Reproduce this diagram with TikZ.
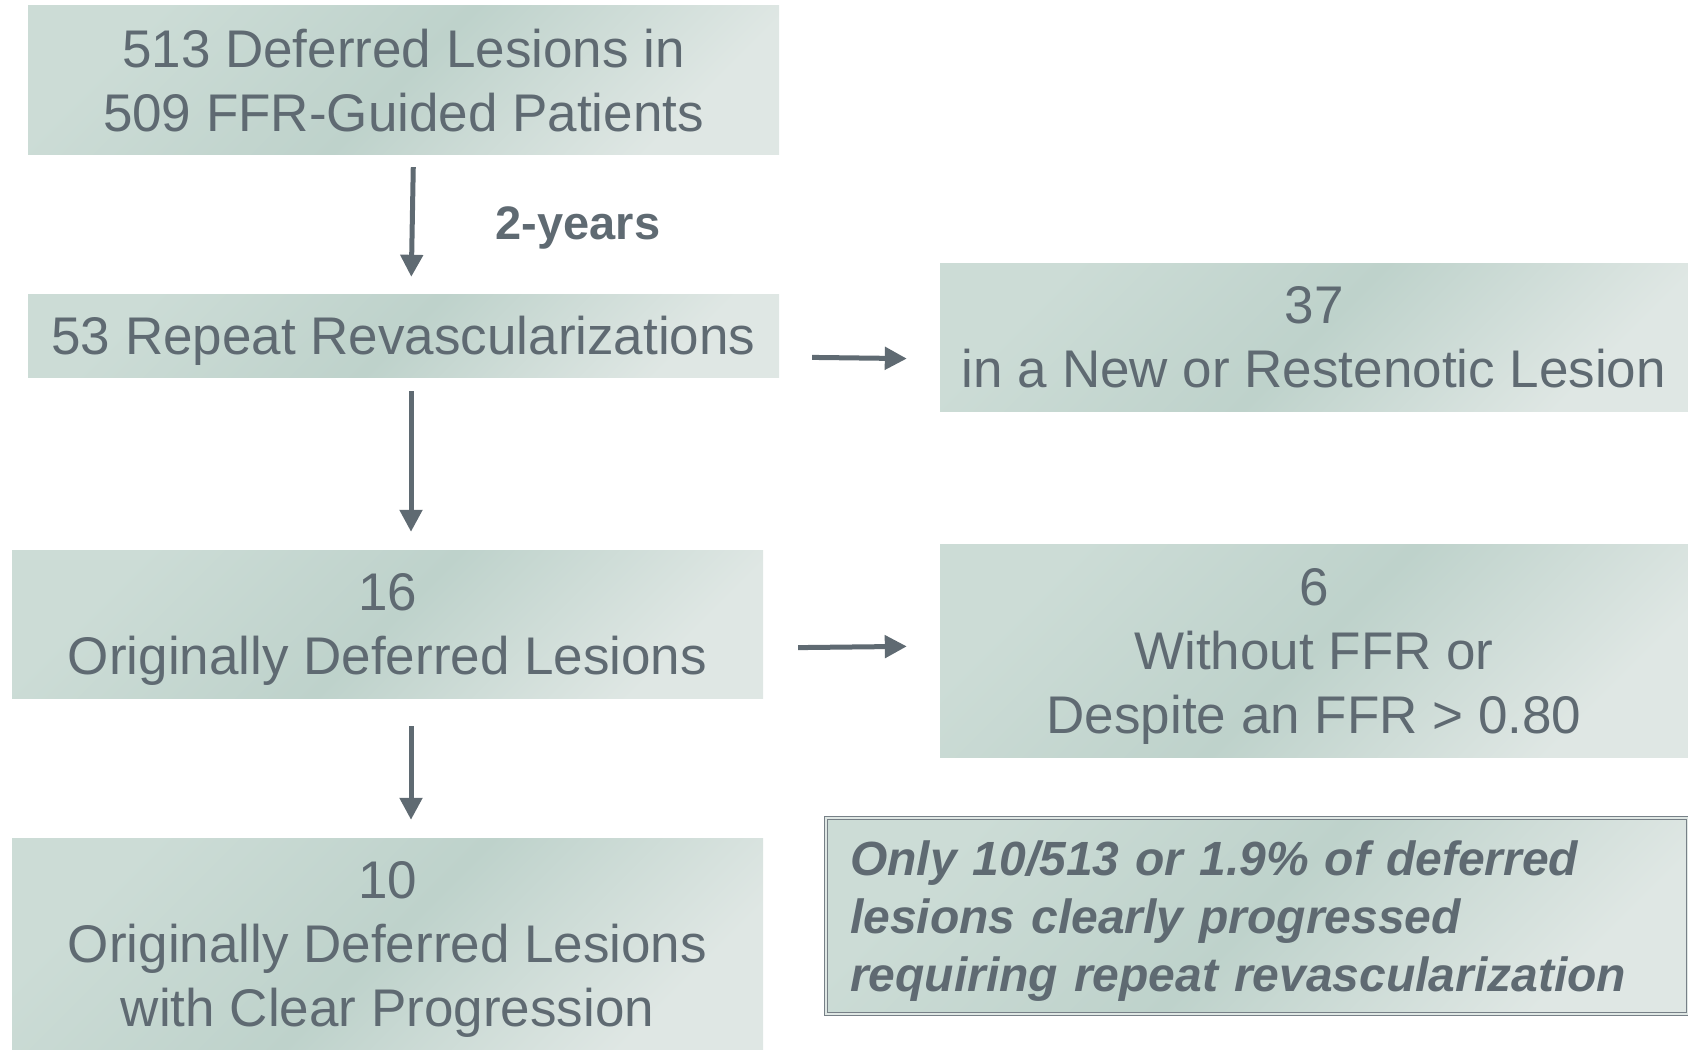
\documentclass[tikz,border=0pt]{standalone}
\usepackage{fontspec}
\setmainfont{Liberation Sans}
\usetikzlibrary{arrows.meta}
\definecolor{txt}{HTML}{5F6A72}
\definecolor{gA}{HTML}{CCDCD6}
\definecolor{gB}{HTML}{BED2CB}
\definecolor{gC}{HTML}{DFE7E4}
\tikzset{
  shade/.style={top color=gA, bottom color=gC, middle color=gB, shading angle=45},
  box/.style={shade, inner sep=0pt, text=txt, align=center, text depth=0pt,
    font=\fontsize{53}{64}\selectfont},
  notebox/.style={shade, draw=txt!85, line width=1.2pt, double=gC, double distance=2.5pt,
    text=txt, inner ysep=0pt, inner xsep=24pt, text width=814pt, align=left,
    font=\fontsize{48}{58}\selectfont\bfseries\itshape},
  arr/.style={draw=txt, line width=5pt, -{Triangle[length=22pt,width=22pt]}},
}
\begin{document}
\begin{tikzpicture}[x=1pt,y=-1pt]
\useasboundingbox (0,0) rectangle (1688,1049);
\node[box, minimum width=751pt, minimum height=148pt] (b1) at (403.5,80)
  {513 Deferred Lesions in\\509 FFR-Guided Patients};
\node[box, minimum width=751pt, minimum height=83pt] (b2) at (403.5,335.5)
  {53 Repeat Revascularizations};
\node[box, minimum width=748pt, minimum height=148pt] (b3) at (1314,337)
  {37\\in a New or Restenotic Lesion};
\node[box, minimum width=751pt, minimum height=148pt] (b4) at (387.5,624)
  {16\\Originally Deferred Lesions};
\node[box, minimum width=748pt, minimum height=213pt] (b5) at (1314,650.5)
  {6\\Without FFR or\\Despite an FFR > 0.80};
\node[box, minimum width=751pt, minimum height=211pt] (b6) at (387.5,943.5)
  {10\\Originally Deferred Lesions\\with Clear Progression};
\node[notebox, minimum height=196pt, text depth=116pt] (note) at (1257,916)
  {Only 10/513 or 1.9\% of deferred\\lesions clearly progressed\\requiring repeat revascularization};
\node[text=txt, text depth=0pt, font=\fontsize{47}{56}\selectfont\bfseries] (lbl) at (578,223) {2-years};
\draw[arr, shorten <=13pt, shorten >=17pt] ([xshift=10pt]b1.south) -- ([xshift=7.5pt]b2.north);
\draw[arr, shorten <=33pt, shorten >=33pt] ([yshift=-21.5pt]b2.east) -- ([yshift=-22pt]b3.west);
\draw[arr, shorten <=14pt, shorten >=18pt] ([xshift=7.5pt]b2.south) -- ([xshift=23.5pt]b4.north);
\draw[arr, shorten <=35pt, shorten >=33pt] ([yshift=-24pt]b4.east) -- ([yshift=4.5pt]b5.west);
\draw[arr, shorten <=28pt, shorten >=18pt] ([xshift=23.5pt]b4.south) -- ([xshift=23.5pt]b6.north);
\end{tikzpicture}
\end{document}
